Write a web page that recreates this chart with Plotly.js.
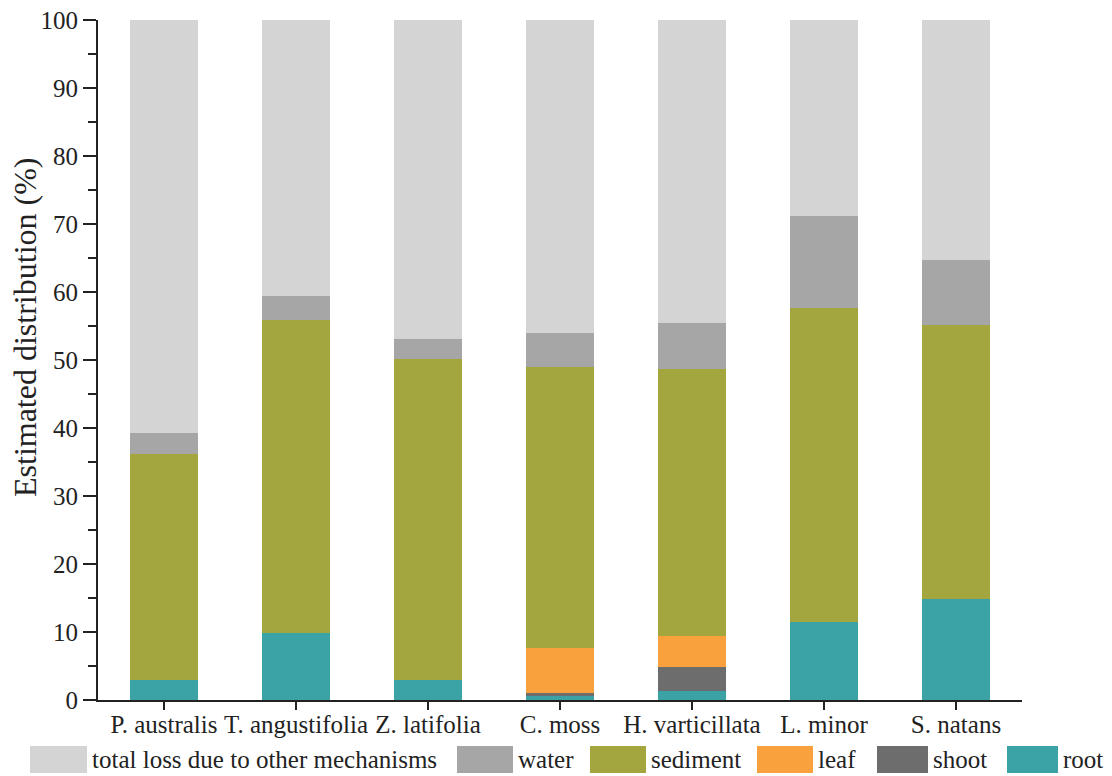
<!DOCTYPE html>
<html>
<head>
<meta charset="utf-8">
<script src="https://cdn.plot.ly/plotly-3.0.1.min.js"></script>
<style>
  html, body { margin: 0; padding: 0; background: #fff; }
  #chart { width: 1112px; height: 776px; }
</style>
</head>
<body>
<div id="chart"></div>
<script>
// Species on the x axis
const species = ["P. australis", "T. angustifolia", "Z. latifolia", "C. moss",
                 "H. varticillata", "L. minor", "S. natans"];

// Estimated distribution (%) of each fate, stacked from the bottom up
const root     = [3.0, 9.8, 3.0, 0.6, 1.3, 11.5, 14.9];
const shoot    = [0, 0, 0, 0.5, 3.5, 0, 0];
const leaf     = [0, 0, 0, 6.6, 4.6, 0, 0];
const sediment = [33.2, 46.1, 47.1, 41.3, 39.3, 46.2, 40.2];
const water    = [3.1, 3.5, 3.0, 4.9, 6.8, 13.5, 9.6];
const other    = [60.7, 40.6, 46.9, 46.1, 44.5, 28.8, 35.3];

const yTicks = [0, 10, 20, 30, 40, 50, 60, 70, 80, 90, 100];
const yTitle = "Estimated distribution (%)";

const series = [
  { name: "root", values: root, color: "#3ba3a6" },
  { name: "shoot", values: shoot, color: "#6d6d6d" },
  { name: "leaf", values: leaf, color: "#f9a13c" },
  { name: "sediment", values: sediment, color: "#a3a53f" },
  { name: "water", values: water, color: "#a6a6a6" },
  { name: "total loss due to other mechanisms", values: other, color: "#d4d4d4" }
];

const FONT = "Liberation Serif";

const traces = series.map(s => ({
  type: "bar",
  name: s.name,
  x: species,
  y: s.values,
  marker: { color: s.color, line: { width: 0 } },
  width: 0.51,
  hoverinfo: "x+y+name"
}));

// Plot area in pixels: x 98..1022, y 20..700
const PL = 98, PW = 924, PB = 700, PH = 680;
const px = x => (x - PL) / PW;
const py = y => (PB - y) / PH;

// Legend drawn as wide swatches with labels along the bottom
const legendItems = [
  { label: "total loss due to other mechanisms", color: "#d4d4d4", x0: 30, x1: 87 },
  { label: "water", color: "#a6a6a6", x0: 457, x1: 513 },
  { label: "sediment", color: "#a3a53f", x0: 590, x1: 646 },
  { label: "leaf", color: "#f9a13c", x0: 757, x1: 813 },
  { label: "shoot", color: "#6d6d6d", x0: 877, x1: 928 },
  { label: "root", color: "#3ba3a6", x0: 1007, x1: 1058 }
];
const shapes = legendItems.map(it => ({
  type: "rect", xref: "paper", yref: "paper",
  x0: px(it.x0), x1: px(it.x1),
  y0: py(773), y1: py(746),
  fillcolor: it.color, line: { width: 0 }, layer: "above"
}));
const annotations = legendItems.map(it => ({
  xref: "paper", yref: "paper",
  x: px(it.x1 + 3), y: py(760),
  xanchor: "left", yanchor: "middle",
  text: it.label, showarrow: false,
  font: { family: FONT, size: 25, color: "#222" }
}));

// Y axis title, rotated
annotations.push({
  xref: "paper", yref: "paper",
  x: px(25), y: py(327),
  xanchor: "center", yanchor: "middle",
  textangle: -90,
  text: yTitle, showarrow: false,
  font: { family: FONT, size: 32, color: "#222" }
});

const layout = {
  width: 1112, height: 776,
  margin: { l: 98, r: 90, t: 20, b: 76 },
  paper_bgcolor: "#fff", plot_bgcolor: "#fff",
  barmode: "stack",
  showlegend: false,
  font: { family: FONT, color: "#222" },
  xaxis: {
    range: [-0.5, 6.5],
    showline: true, linecolor: "#222", linewidth: 2,
    ticks: "outside", ticklen: 8, tickwidth: 2, tickcolor: "#222",
    ticklabelstandoff: -7,
    tickfont: { family: FONT, size: 25, color: "#222" },
    showgrid: false, zeroline: false, fixedrange: true
  },
  yaxis: {
    range: [0, 100],
    tickvals: yTicks,
    ticktext: yTicks.map(String),
    showline: true, linecolor: "#222", linewidth: 2,
    ticks: "outside", ticklen: 13, tickwidth: 2, tickcolor: "#222",
    minor: { dtick: 5, ticks: "outside", ticklen: 8, tickwidth: 2, tickcolor: "#222", showgrid: false },
    tickfont: { family: FONT, size: 25, color: "#222" },
    showgrid: false, zeroline: false, fixedrange: true
  },
  shapes: shapes,
  annotations: annotations
};

Plotly.newPlot("chart", traces, layout, { displayModeBar: false, staticPlot: true });
</script>
</body>
</html>
